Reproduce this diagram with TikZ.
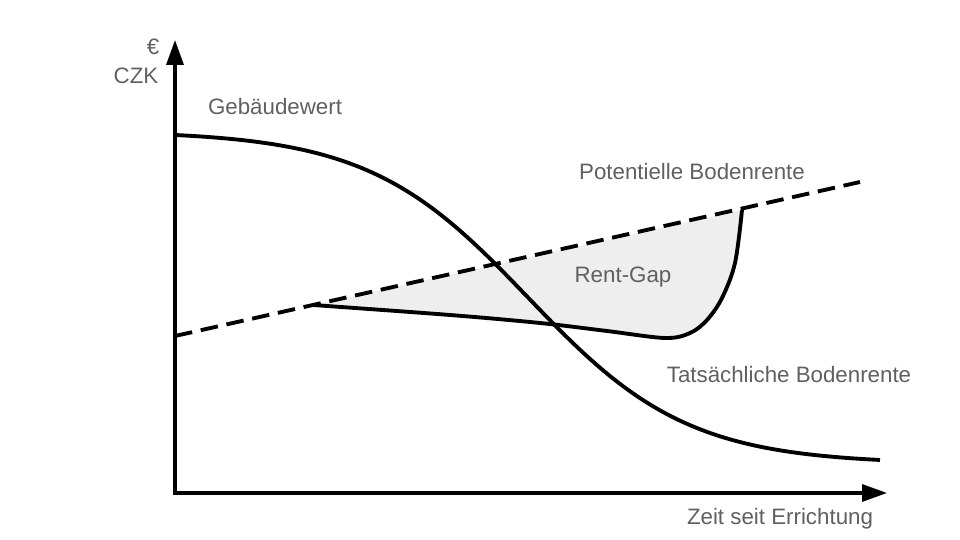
\documentclass[tikz,border=0pt]{standalone}
\usepackage{fontspec}
\setmainfont{Liberation Sans}
\usetikzlibrary{arrows.meta}
\definecolor{labelgray}{HTML}{606060}
\definecolor{gapfill}{HTML}{EEEEEE}
\tikzset{every picture/.style={x=0.02cm, y=-0.02cm}}
\tikzset{
  curve/.style={line width=2.2pt, line join=round},
  axis/.style={line width=1.9pt, -{Triangle[length=0.5cm, width=0.34cm]}},
  lbl/.style={text=labelgray, font=\fontsize{12.7}{15}\selectfont, inner sep=0pt}
}

\begin{document}
\begin{tikzpicture}
      \useasboundingbox (0,0) rectangle (960,540);

      \coordinate (origin) at (175,493);
      \coordinate (ytip) at (175,40);
      \coordinate (xtip) at (887,493);
      \coordinate (dashstart) at (175,336);
      \coordinate (dashend) at (860,182);
      \coordinate (gapstart) at (313,305);
      \coordinate (gapend) at (742,210);

      % Rent gap area
      \fill[gapfill] plot[smooth, tension=0.55] coordinates {(gapstart) (450,315) (540,323) (607,331) (665,338) (690,333) (707,320) (722,298) (735,263) (gapend)} -- cycle;

      % Potential land rent
      \draw[line width=2.2pt, dash pattern=on 10pt off 5pt] (dashstart) -- (dashend);

      % Actual land rent
      \draw[curve] plot[smooth, tension=0.55] coordinates {(gapstart) (450,315) (540,323) (607,331) (665,338) (690,333) (707,320) (722,298) (735,263) (gapend)};

      % Building value
      \draw[curve] plot[domain=175:880, samples=120] (\x, {131+333/(1+exp(-(\x-528)/80))});

      % Axes
      \draw[axis] (origin) -- (ytip);
      \draw[axis] (173,493) -- (xtip);

      % Labels
      \node[lbl] (eur) at (153,47) {€};
      \node[lbl] (czk) at (136,76) {CZK};
      \node[lbl] (gbw) at (275,107) {Gebäudewert};
      \node[lbl] (pbr) at (692,172) {Potentielle Bodenrente};
      \node[lbl] (gap) at (623,277) {Rent-Gap};
      \node[lbl] (tbr) at (789,375) {Tatsächliche Bodenrente};
      \node[lbl] (zeit) at (780,519) {Zeit seit Errichtung};
    \end{tikzpicture}
\end{document}
